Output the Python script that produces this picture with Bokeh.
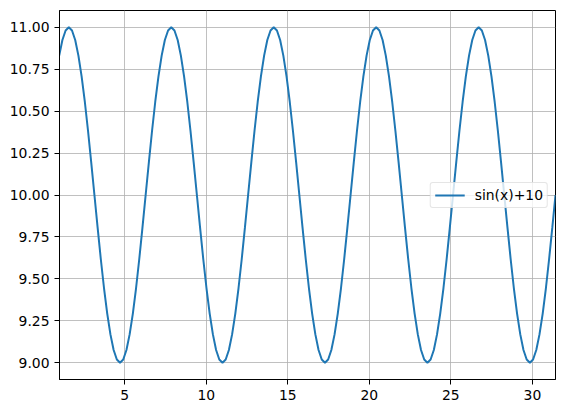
from bokeh.plotting import figure
from bokeh.models import Range1d, FixedTicker, NumeralTickFormatter, Legend, LegendItem
from bokeh.embed import file_html
from bokeh.resources import INLINE

series_label = "sin(x)+10"

x_values = [
    0.982, 1.178, 1.374, 1.571, 1.767, 1.963, 2.160, 2.356, 2.553, 2.749, 2.945,
    3.142, 3.338, 3.534, 3.731, 3.927, 4.123, 4.320, 4.516, 4.712, 4.909, 5.105, 5.301, 5.498, 5.694, 5.890, 6.087,
    6.283, 6.480, 6.676, 6.872, 7.069, 7.265, 7.461, 7.658, 7.854, 8.050, 8.247, 8.443, 8.639, 8.836, 9.032, 9.228,
    9.425, 9.621, 9.817, 10.014, 10.210, 10.407, 10.603, 10.799, 10.996, 11.192, 11.388, 11.585, 11.781, 11.977, 12.174, 12.370,
    12.566, 12.763, 12.959, 13.155, 13.352, 13.548, 13.744, 13.941, 14.137, 14.334, 14.530, 14.726, 14.923, 15.119, 15.315, 15.512,
    15.708, 15.904, 16.101, 16.297, 16.493, 16.690, 16.886, 17.082, 17.279, 17.475, 17.671, 17.868, 18.064, 18.261, 18.457, 18.653,
    18.850, 19.046, 19.242, 19.439, 19.635, 19.831, 20.028, 20.224, 20.420, 20.617, 20.813, 21.009, 21.206, 21.402, 21.598, 21.795,
    21.991, 22.187, 22.384, 22.580, 22.777, 22.973, 23.169, 23.366, 23.562, 23.758, 23.955, 24.151, 24.347, 24.544, 24.740, 24.936,
    25.133, 25.329, 25.525, 25.722, 25.918, 26.114, 26.311, 26.507, 26.704, 26.900, 27.096, 27.293, 27.489, 27.685, 27.882, 28.078,
    28.274, 28.471, 28.667, 28.863, 29.060, 29.256, 29.452, 29.649, 29.845, 30.041, 30.238, 30.434, 30.631, 30.827, 31.023, 31.220,
    31.416,
]

y_values = [
    10.831, 10.924, 10.981, 11.000, 10.981, 10.924, 10.831, 10.707, 10.556, 10.383, 10.195,
    10.000, 9.805, 9.617, 9.444, 9.293, 9.169, 9.076, 9.019, 9.000, 9.019, 9.076, 9.169, 9.293, 9.444, 9.617, 9.805,
    10.000, 10.195, 10.383, 10.556, 10.707, 10.831, 10.924, 10.981, 11.000, 10.981, 10.924, 10.831, 10.707, 10.556, 10.383, 10.195,
    10.000, 9.805, 9.617, 9.444, 9.293, 9.169, 9.076, 9.019, 9.000, 9.019, 9.076, 9.169, 9.293, 9.444, 9.617, 9.805,
    10.000, 10.195, 10.383, 10.556, 10.707, 10.831, 10.924, 10.981, 11.000, 10.981, 10.924, 10.831, 10.707, 10.556, 10.383, 10.195,
    10.000, 9.805, 9.617, 9.444, 9.293, 9.169, 9.076, 9.019, 9.000, 9.019, 9.076, 9.169, 9.293, 9.444, 9.617, 9.805,
    10.000, 10.195, 10.383, 10.556, 10.707, 10.831, 10.924, 10.981, 11.000, 10.981, 10.924, 10.831, 10.707, 10.556, 10.383, 10.195,
    10.000, 9.805, 9.617, 9.444, 9.293, 9.169, 9.076, 9.019, 9.000, 9.019, 9.076, 9.169, 9.293, 9.444, 9.617, 9.805,
    10.000, 10.195, 10.383, 10.556, 10.707, 10.831, 10.924, 10.981, 11.000, 10.981, 10.924, 10.831, 10.707, 10.556, 10.383, 10.195,
    10.000, 9.805, 9.617, 9.444, 9.293, 9.169, 9.076, 9.019, 9.000, 9.019, 9.076, 9.169, 9.293, 9.444, 9.617, 9.805,
    10.000,
]

x_ticks = [5, 10, 15, 20, 25, 30]
y_ticks = [9.0, 9.25, 9.5, 9.75, 10.0, 10.25, 10.5, 10.75, 11.0]

FONT = "DejaVu Sans"
FS = "13.9px"

p = figure(
    frame_width=496, frame_height=369,
    x_range=Range1d(1.0, 31.416), y_range=Range1d(8.9, 11.1),
    output_backend="svg", toolbar_location=None,
    min_border_left=59, min_border_top=10, min_border_right=4, min_border_bottom=26,
)
p.background_fill_color = "white"
p.border_fill_color = "white"
p.outline_line_color = "black"
p.outline_line_width = 1
p.outline_line_alpha = 1

line = p.line(x_values, y_values, line_color="#1f77b4", line_width=2)

p.xaxis.ticker = FixedTicker(ticks=x_ticks)
p.yaxis.ticker = FixedTicker(ticks=y_ticks)
p.yaxis.formatter = NumeralTickFormatter(format="0.00")

for ax in (p.xaxis, p.yaxis):
    ax.axis_line_color = "black"
    ax.axis_line_width = 1
    ax.major_tick_line_color = "black"
    ax.major_tick_line_width = 1
    ax.major_tick_out = 5
    ax.major_tick_in = 0
    ax.minor_tick_line_color = None
    ax.major_label_text_font = FONT
    ax.major_label_text_font_size = FS
    ax.major_label_text_color = "black"
    ax.major_label_standoff = 5

for g in (p.xgrid, p.ygrid):
    g.grid_line_color = "#b0b0b0"
    g.grid_line_width = 0.8
    g.grid_line_alpha = 1

legend = Legend(
    items=[LegendItem(label=series_label, renderers=[line])],
    location="right",
    margin=7,
    padding=4,
    spacing=0,
    glyph_width=30,
    glyph_height=16,
    label_height=16,
    label_standoff=10,
    label_text_font=FONT,
    label_text_font_size=FS,
    label_text_color="black",
    border_line_color="#cccccc",
    border_line_width=1,
    background_fill_color="white",
    background_fill_alpha=0.8,
)
if "border_radius" in Legend.properties():
    legend.border_radius = 3
p.add_layout(legend, "center")

open("out.html", "w").write(file_html(p, INLINE))
